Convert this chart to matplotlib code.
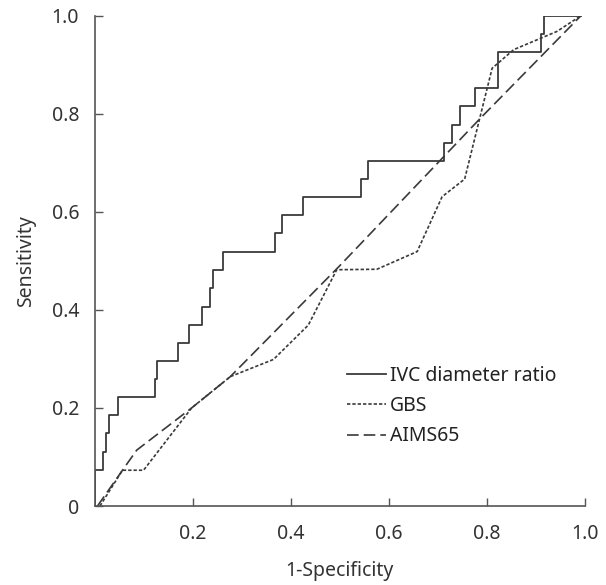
import matplotlib.pyplot as plt

# ROC data (1-specificity, sensitivity)
ivc_fpr = [0.0, 0.0, 0.017, 0.023, 0.029, 0.047, 0.123, 0.128, 0.170, 0.192, 0.219,
           0.236, 0.241, 0.262, 0.368, 0.382, 0.426, 0.544, 0.557, 0.712, 0.729,
           0.746, 0.777, 0.822, 0.911, 0.916, 0.992]
ivc_tpr = [0.0, 0.074, 0.111, 0.148, 0.185, 0.222, 0.259, 0.296, 0.333, 0.370, 0.407,
           0.444, 0.481, 0.519, 0.556, 0.593, 0.630, 0.667, 0.704, 0.741, 0.778,
           0.815, 0.852, 0.926, 0.963, 1.0, 1.0]

gbs_fpr = [0.011, 0.057, 0.100, 0.198, 0.277, 0.365, 0.436, 0.494, 0.576, 0.658,
           0.709, 0.755, 0.811, 0.855, 0.943, 0.992]
gbs_tpr = [0.0, 0.073, 0.073, 0.200, 0.264, 0.299, 0.369, 0.482, 0.483, 0.519,
           0.631, 0.667, 0.893, 0.931, 0.968, 1.0]

aims_fpr = [0.006, 0.057, 0.086, 0.198, 0.277, 0.500, 0.787, 0.992]
aims_tpr = [0.0, 0.073, 0.114, 0.200, 0.264, 0.490, 0.791, 1.0]

xticks = [0.2, 0.4, 0.6, 0.8, 1.0]
xtick_labels = ['0.2', '0.4', '0.6', '0.8', '1.0']
yticks = [0, 0.2, 0.4, 0.6, 0.8, 1.0]
ytick_labels = ['0', '0.2', '0.4', '0.6', '0.8', '1.0']

plt.rcParams['font.family'] = ['Noto Sans', 'DejaVu Sans']
fs = 14

fig = plt.figure(figsize=(6.06, 5.85), dpi=100)
ax = fig.add_axes([0.156, 0.135, 0.809, 0.838])

line_col = '#3a3a3a'
ax.plot(ivc_fpr, ivc_tpr, drawstyle='steps-post', color=line_col, lw=1.3,
        label='IVC diameter ratio')
ax.plot(gbs_fpr, gbs_tpr, color=line_col, lw=1.2, dashes=(2, 1.2), label='GBS')
ax.plot(aims_fpr, aims_tpr, color=line_col, lw=1.2, dashes=(7, 3), label='AIMS65')

ax.set_xlim(0, 1)
ax.set_ylim(0, 1)
ax.spines['top'].set_visible(False)
ax.spines['right'].set_visible(False)
for s in ['left', 'bottom']:
    ax.spines[s].set_color('#555555')
    ax.spines[s].set_linewidth(1.2)

ax.set_xticks(xticks)
ax.set_xticklabels(xtick_labels)
ax.set_yticks(yticks)
ax.set_yticklabels(ytick_labels)
ax.tick_params(axis='both', direction='in', length=6, width=1.0, color='#555555',
               labelsize=fs, labelcolor='#333333')
ax.tick_params(axis='x', pad=13)
ax.tick_params(axis='y', pad=11)

ax.set_xlabel('1-Specificity', fontsize=fs, color='#333333', labelpad=12)
ax.set_ylabel('Sensitivity', fontsize=fs, color='#333333', labelpad=11)

ax.legend(loc='upper left', bbox_to_anchor=(0.479, 0.321), frameon=False,
          fontsize=fs, handlelength=2.0, handletextpad=0.2, labelspacing=0.52,
          labelcolor='#222222')

fig.savefig('out.png', dpi=100)
